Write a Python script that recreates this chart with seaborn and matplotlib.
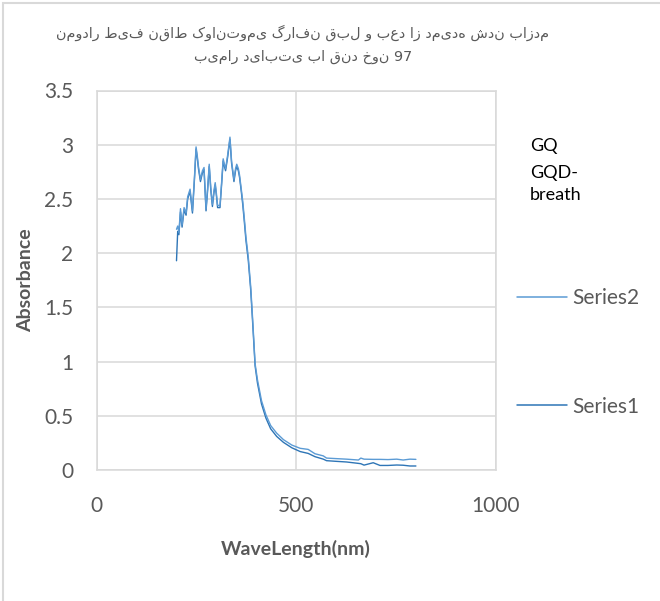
import numpy as np
import pandas as pd
import seaborn as sns
import matplotlib
matplotlib.use("Agg")
import matplotlib.pyplot as plt
from matplotlib.lines import Line2D
from matplotlib.patches import Rectangle

# ---- chart text -------------------------------------------------------------
title_lines = [
    "نمودار طیف نقاط کوانتومی گرافن قبل و بعد از دمیده شدن بازدم",
    "بیمار دیابتی با قند خون 97",
]
x_label = "WaveLength(nm)"
y_label = "Absorbance"
x_ticks = [0, 500, 1000]
y_ticks = [0, 0.5, 1, 1.5, 2, 2.5, 3, 3.5]
y_tick_labels = ["0", "0.5", "1", "1.5", "2", "2.5", "3", "3.5"]
series_names = ["Series1", "Series2"]
note_gq = "GQ"
note_breath = "GQD-\nbreath"

# ---- spectra ----------------------------------------------------------------
wavelength = [200, 203, 206, 210, 214, 219, 224, 228, 234, 240, 245, 249, 252,
              255, 260, 265, 269, 274, 278, 282, 286, 290, 294, 297, 300, 303,
              309, 313, 317, 320, 323, 328, 334, 338, 344, 348, 351, 355, 358,
              362, 366, 370, 374, 380, 386, 391, 397, 403, 413, 424, 436, 451,
              468, 489, 510, 530, 547, 568, 576, 600, 626, 656, 662, 670, 693,
              710, 730, 752, 768, 785, 800]

series1 = [1.93, 2.20, 2.17, 2.38, 2.24, 2.40, 2.35, 2.50, 2.57, 2.37, 2.68,
           2.96, 2.88, 2.78, 2.66, 2.74, 2.77, 2.39, 2.58, 2.80, 2.58, 2.43,
           2.56, 2.63, 2.53, 2.42, 2.42, 2.63, 2.85, 2.80, 2.76, 2.88, 3.05,
           2.83, 2.66, 2.76, 2.80, 2.76, 2.70, 2.58, 2.45, 2.29, 2.12, 1.93,
           1.66, 1.35, 0.96, 0.80, 0.61, 0.48, 0.38, 0.31, 0.255, 0.205, 0.17,
           0.153, 0.123, 0.10, 0.086, 0.08, 0.074, 0.061, 0.058, 0.045, 0.067,
           0.042, 0.042, 0.046, 0.044, 0.037, 0.037]

series2 = [2.22, 2.25, 2.19, 2.41, 2.26, 2.42, 2.37, 2.52, 2.59, 2.39, 2.70,
           2.98, 2.90, 2.80, 2.68, 2.76, 2.79, 2.41, 2.60, 2.82, 2.60, 2.45,
           2.58, 2.65, 2.55, 2.44, 2.44, 2.65, 2.87, 2.82, 2.78, 2.90, 3.07,
           2.85, 2.68, 2.78, 2.82, 2.78, 2.72, 2.60, 2.48, 2.32, 2.15, 1.96,
           1.69, 1.38, 0.98, 0.83, 0.64, 0.51, 0.41, 0.34, 0.28, 0.23, 0.20,
           0.19, 0.15, 0.13, 0.11, 0.105, 0.10, 0.092, 0.11, 0.10, 0.098,
           0.098, 0.096, 0.10, 0.092, 0.10, 0.098]

series_colors = {"Series1": "#2E75B6", "Series2": "#5B9BD5"}

# ---- figure -----------------------------------------------------------------
sns.set_style("white")
plt.rcParams["font.family"] = ["Lato", "DejaVu Sans"]

W, H = 660, 601
fig = plt.figure(figsize=(W / 100, H / 100), dpi=100)
ax = fig.add_axes([96.7 / W, 1 - 470 / H, (495.7 - 96.7) / W, (470 - 90.5) / H])

df = pd.concat([
    pd.DataFrame({"wavelength": wavelength, "absorbance": series1, "series": "Series1"}),
    pd.DataFrame({"wavelength": wavelength, "absorbance": series2, "series": "Series2"}),
])

sns.lineplot(data=df, x="wavelength", y="absorbance", hue="series",
             palette=series_colors, hue_order=series_names, estimator=None,
             sort=False, linewidth=1.0, legend=False, ax=ax)

grid_c = "#D9D9D9"
text_c = "#595959"
ax.set_xlim(0, 1000)
ax.set_ylim(0, 3.5)
ax.set_xticks(x_ticks)
ax.set_yticks(y_ticks)
ax.set_yticklabels(y_tick_labels)
ax.grid(True, color=grid_c, linewidth=1.1)
ax.set_axisbelow(True)
for s in ax.spines.values():
    s.set_color(grid_c)
    s.set_linewidth(1.1)
ax.tick_params(axis="both", length=0, labelsize=15, labelcolor=text_c)
ax.tick_params(axis="y", pad=17)
ax.tick_params(axis="x", pad=19)

ax.set_xlabel(x_label, fontsize=14, fontweight="bold", color=text_c, va="center")
ax.xaxis.set_label_coords(0.5, (470 - 549) / (470 - 90.5))
ax.set_ylabel(y_label, fontsize=14, fontweight="bold", color=text_c, va="center")
ax.yaxis.set_label_coords((26 - 96.7) / (495.7 - 96.7), 0.5)

# title
for line, y_px in zip(title_lines, [33, 57]):
    fig.text(303 / W, 1 - y_px / H, line, ha="center", va="center",
             fontsize=10.4, color=text_c, family=["DejaVu Sans"])

# side notes
fig.text(530 / W, 1 - 146 / H, note_gq, ha="left", va="center", fontsize=13, color="black")
fig.text(530 / W, 1 - 165 / H, note_breath, ha="left", va="top", fontsize=13,
         color="black", linespacing=1.45)

# legend
handles = [Line2D([], [], color=series_colors["Series2"], lw=1.1),
           Line2D([], [], color=series_colors["Series1"], lw=1.1)]
fig.legend(handles, ["Series2", "Series1"], loc="upper left",
           bbox_to_anchor=(517 / W, 1 - 288 / H), frameon=False,
           borderaxespad=0, borderpad=0, prop={"size": 15},
           labelcolor=text_c, labelspacing=4.25, handlelength=2.4,
           handletextpad=0.25)

# chart outline
fig.patches.append(Rectangle((3 / W, -0.1), 1.2, 1 - 3 / H + 0.1,
                             transform=fig.transFigure, fill=False,
                             edgecolor=grid_c, linewidth=1.5))

fig.savefig("out.png", dpi=100)
